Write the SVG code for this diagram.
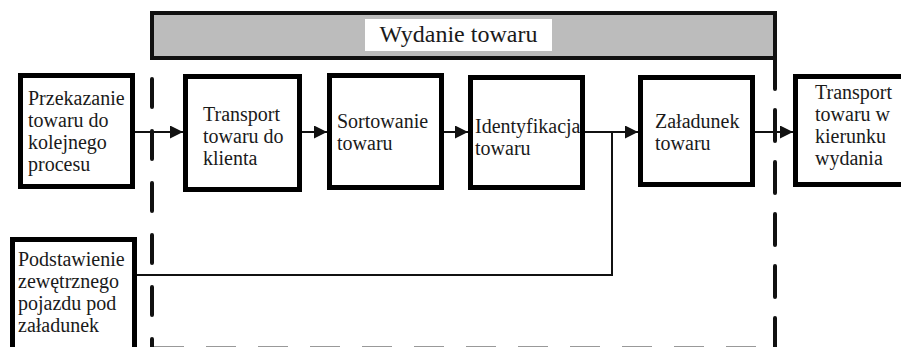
<svg xmlns="http://www.w3.org/2000/svg" width="901" height="347" viewBox="0 0 901 347">
  <style>
    .box { fill: #fff; stroke: #000; stroke-width: 5; }
    .lbl { font-size: 20px; fill: #1a1a1a; }
    .title { font-size: 24px; fill: #1a1a1a; }
    .flow { fill: none; stroke: #111; stroke-width: 2; }
    .arr { marker-end: url(#arrow); }
    .bound { fill: none; stroke: #111; stroke-width: 4; stroke-linecap: round; }
  </style>
  <defs>
    <marker id="arrow" markerUnits="userSpaceOnUse" markerWidth="13" markerHeight="13" refX="13" refY="6.5" orient="auto">
      <path d="M0,0 L13,6.5 L0,13 Z" fill="#111"/>
    </marker>
  </defs>
  <rect width="901" height="347" fill="#fff"/>

  <g font-family="'Liberation Serif', 'Times New Roman', 'DejaVu Serif', serif">
  <!-- process boundary -->
  <g id="boundary">
    <rect x="152" y="13" width="623" height="45" fill="#bcbcbc" stroke="#111" stroke-width="4"/>
    <rect x="365" y="19" width="187" height="32" fill="#fff"/>
    <text class="title" x="458.5" y="42" text-anchor="middle">Wydanie towaru</text>
    <path class="bound" d="M152,79 V347" stroke-dasharray="28 24"/>
    <path class="bound" d="M775,58 V347" stroke-dasharray="31 21"/>
    <path d="M154,348 H760" stroke="#999" stroke-width="4" stroke-dasharray="30 22" fill="none"/>
  </g>

  <g id="przekazanie">
    <rect class="box" x="20.5" y="75.5" width="112" height="111"/>
    <text class="lbl" x="28" y="105">Przekazanie</text>
    <text class="lbl" x="28" y="127">towaru do</text>
    <text class="lbl" x="28" y="149">kolejnego</text>
    <text class="lbl" x="28" y="171">procesu</text>
  </g>

  <g id="transport-klient">
    <rect class="box" x="185.5" y="76.5" width="114" height="113"/>
    <text class="lbl" x="203" y="121">Transport</text>
    <text class="lbl" x="203" y="143">towaru do</text>
    <text class="lbl" x="203" y="165">klienta</text>
  </g>

  <g id="sortowanie">
    <rect class="box" x="329.5" y="75.5" width="112" height="112"/>
    <text class="lbl" x="337" y="128">Sortowanie</text>
    <text class="lbl" x="337" y="150">towaru</text>
  </g>

  <g id="identyfikacja">
    <rect class="box" x="470.5" y="77.5" width="112" height="110"/>
    <text class="lbl" x="475" y="133">Identyfikacja</text>
    <text class="lbl" x="475" y="155">towaru</text>
  </g>

  <g id="zaladunek">
    <rect class="box" x="640.5" y="77.5" width="112" height="107"/>
    <text class="lbl" x="655" y="128">Załadunek</text>
    <text class="lbl" x="655" y="150">towaru</text>
  </g>

  <g id="transport-wydanie">
    <rect class="box" x="795.5" y="76.5" width="120" height="108"/>
    <text class="lbl" x="815" y="99">Transport</text>
    <text class="lbl" x="815" y="121">towaru w</text>
    <text class="lbl" x="815" y="143">kierunku</text>
    <text class="lbl" x="815" y="165">wydania</text>
  </g>

  <g id="podstawienie">
    <rect class="box" x="12.5" y="239.5" width="122" height="130"/>
    <text class="lbl" x="18" y="266">Podstawienie</text>
    <text class="lbl" x="18" y="288">zewętrznego</text>
    <text class="lbl" x="18" y="310">pojazdu pod</text>
    <text class="lbl" x="18" y="332">załadunek</text>
  </g>
  </g>

  <g id="connectors">
    <path class="flow arr" d="M135,132 H183"/>
    <path class="flow arr" d="M302,132 H327"/>
    <path class="flow arr" d="M444,132 H468"/>
    <path class="flow arr" d="M585,132 H638"/>
    <path class="flow arr" d="M755,132 H793"/>
    <path class="flow" d="M137,275 H612 V132"/>
  </g>
</svg>
